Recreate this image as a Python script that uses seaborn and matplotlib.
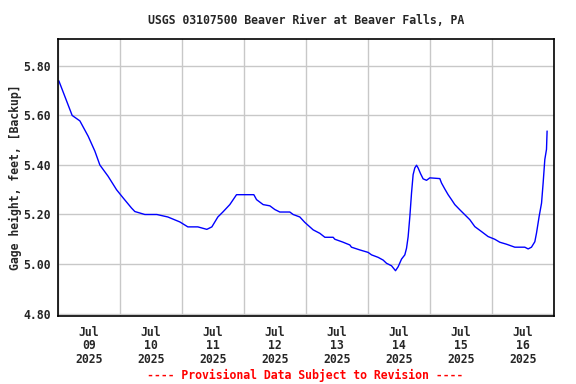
import numpy as np
import pandas as pd
import matplotlib.pyplot as plt
import matplotlib.dates as mdates
import seaborn as sns

# Gage height readings
times = [
    "2025-07-09 00:15", "2025-07-09 05:25", "2025-07-09 08:24", "2025-07-09 11:37",
    "2025-07-09 14:12", "2025-07-09 16:08", "2025-07-09 19:21", "2025-07-09 22:36",
    "2025-07-10 01:09", "2025-07-10 04:24", "2025-07-10 05:41", "2025-07-10 09:33",
    "2025-07-10 14:12", "2025-07-10 18:27", "2025-07-10 23:06", "2025-07-11 02:12",
    "2025-07-11 06:04", "2025-07-11 09:33", "2025-07-11 11:30", "2025-07-11 13:49",
    "2025-07-11 15:45", "2025-07-11 18:27", "2025-07-11 21:03", "2025-07-12 00:23",
    "2025-07-12 03:45", "2025-07-12 04:48", "2025-07-12 07:21", "2025-07-12 09:57",
    "2025-07-12 11:53", "2025-07-12 13:49", "2025-07-12 17:41", "2025-07-12 18:58",
    "2025-07-12 21:33", "2025-07-12 23:30", "2025-07-13 01:26", "2025-07-13 02:43",
    "2025-07-13 05:18", "2025-07-13 07:15", "2025-07-13 10:27", "2025-07-13 11:07",
    "2025-07-13 14:05", "2025-07-13 16:55", "2025-07-13 17:33", "2025-07-13 20:46",
    "2025-07-14 00:00", "2025-07-14 01:19", "2025-07-14 03:52", "2025-07-14 05:48",
    "2025-07-14 07:07", "2025-07-14 09:03", "2025-07-14 10:36", "2025-07-14 11:37",
    "2025-07-14 12:56", "2025-07-14 14:12", "2025-07-14 14:52", "2025-07-14 15:29",
    "2025-07-14 16:09", "2025-07-14 16:48", "2025-07-14 17:25", "2025-07-14 18:04",
    "2025-07-14 18:44", "2025-07-14 19:21", "2025-07-14 20:17", "2025-07-14 21:17",
    "2025-07-14 22:36", "2025-07-14 23:53", "2025-07-15 03:45", "2025-07-15 04:25",
    "2025-07-15 05:41", "2025-07-15 06:58", "2025-07-15 08:17", "2025-07-15 09:33",
    "2025-07-15 11:30", "2025-07-15 13:26", "2025-07-15 15:22", "2025-07-15 17:18",
    "2025-07-15 19:54", "2025-07-15 22:26", "2025-07-16 01:02", "2025-07-16 02:59",
    "2025-07-16 05:34", "2025-07-16 08:47", "2025-07-16 12:39", "2025-07-16 13:57",
    "2025-07-16 15:14", "2025-07-16 16:32", "2025-07-16 17:11", "2025-07-16 18:12",
    "2025-07-16 19:08", "2025-07-16 19:45", "2025-07-16 20:24", "2025-07-16 21:03",
    "2025-07-16 21:17",
]
gage_ft = [
    5.74, 5.60, 5.578, 5.516,
    5.456, 5.40, 5.354, 5.30,
    5.267, 5.226, 5.212, 5.20,
    5.20, 5.19, 5.17, 5.15,
    5.15, 5.14, 5.15, 5.19,
    5.21, 5.24, 5.28, 5.28,
    5.28, 5.26, 5.24, 5.235,
    5.22, 5.21, 5.21, 5.20,
    5.19, 5.168, 5.15, 5.138,
    5.124, 5.108, 5.108, 5.10,
    5.089, 5.077, 5.068, 5.057,
    5.047, 5.037, 5.027, 5.016,
    5.003, 4.993, 4.973, 4.989,
    5.02, 5.037, 5.064, 5.11,
    5.192, 5.287, 5.361, 5.388,
    5.399, 5.388, 5.365, 5.344,
    5.338, 5.348, 5.345, 5.327,
    5.303, 5.28, 5.26, 5.24,
    5.219, 5.199, 5.179, 5.151,
    5.131, 5.111, 5.10, 5.088,
    5.08, 5.068, 5.068, 5.061,
    5.068, 5.09, 5.125, 5.192,
    5.246, 5.327, 5.422, 5.463,
    5.537,
]
yticks = [4.80, 5.00, 5.20, 5.40, 5.60, 5.80]

df = pd.DataFrame({"time": pd.to_datetime(times), "gage": gage_ft})

sns.set_style("white")
plt.rcParams["font.family"] = ["DejaVu Sans Mono"]
plt.rcParams["font.weight"] = "bold"
plt.rcParams["axes.titleweight"] = "bold"
plt.rcParams["axes.labelweight"] = "bold"
plt.rcParams["font.size"] = 8.3

fig = plt.figure(figsize=(5.76, 3.84), dpi=100)
ax = fig.add_axes([0.101, 0.177, 0.861, 0.721])

sns.lineplot(data=df, x="time", y="gage", color="#0000ff", linewidth=1.0, ax=ax)

ax.set_xlim(pd.Timestamp("2025-07-09"), pd.Timestamp("2025-07-17"))
ax.set_ylim(4.79, 5.908)
ax.set_yticks(yticks)
ax.yaxis.set_major_formatter(plt.FormatStrFormatter("%.2f"))

# labels at noon, grid lines at midnight
ax.xaxis.set_major_locator(mdates.HourLocator(byhour=12))
ax.xaxis.set_major_formatter(mdates.DateFormatter("%b\n%d\n%Y"))
ax.xaxis.set_minor_locator(mdates.DayLocator())
ax.grid(True, which="minor", axis="x", color="#c8c8c8", linewidth=1.0)
ax.grid(True, which="major", axis="y", color="#c8c8c8", linewidth=1.0)
ax.grid(False, which="major", axis="x")
ax.tick_params(axis="both", which="both", length=0)
ax.tick_params(axis="x", pad=7)
ax.tick_params(axis="y", pad=5)
for lbl in ax.get_xticklabels() + ax.get_yticklabels():
    lbl.set_fontweight("bold")
for lbl in ax.get_xticklabels():
    lbl.set_linespacing(1.05)

for s in ax.spines.values():
    s.set_color("black")
    s.set_linewidth(1.2)

ax.set_xlabel("")
ax.set_ylabel("Gage height, feet, [Backup]", fontsize=8.3)
ax.yaxis.set_label_coords(-0.072, 0.5)
ax.set_title("USGS 03107500 Beaver River at Beaver Falls, PA", fontsize=8.3, pad=11)

fig.text(0.53, 0.023, "---- Provisional Data Subject to Revision ----",
         color="red", ha="center", va="center")

fig.savefig("out.png", dpi=100)
